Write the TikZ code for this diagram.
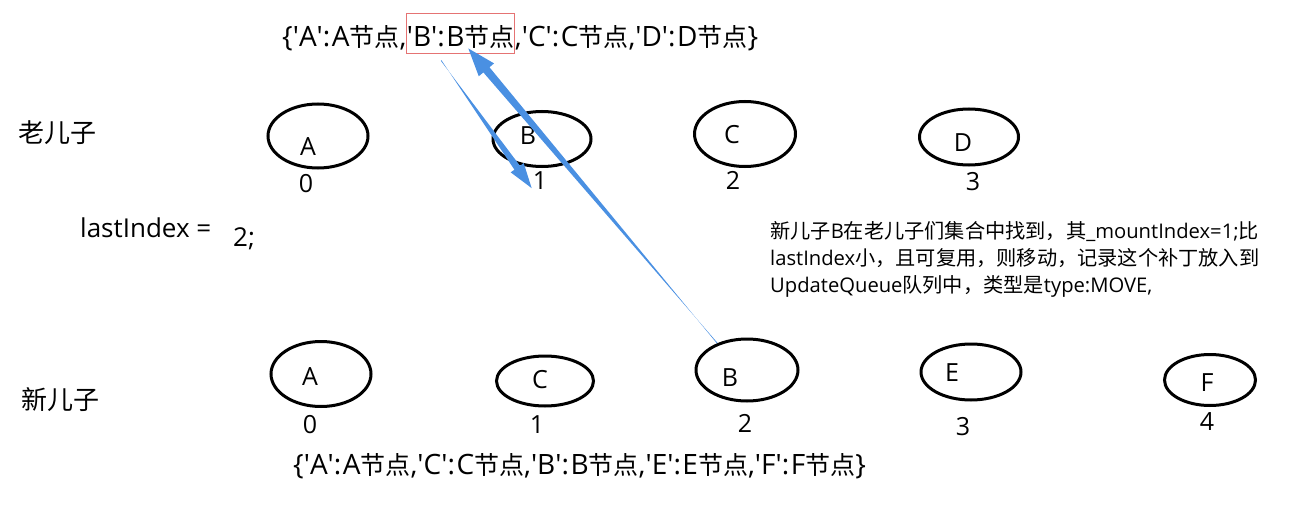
\documentclass[tikz,border=0pt]{standalone}
\usepackage{fontspec}
\setmainfont{Open Sans}
\newfontfamily\dictfont[LetterSpace=5.5]{Open Sans}
\newfontfamily\zhfont{Noto Sans CJK SC}
\newcommand\zh[1]{{\zhfont #1}}
\newcommand\zd[1]{{\fontsize{25}{30}\selectfont\zhfont #1}}
\newcommand\q{\textquotesingle}
\usetikzlibrary{calc,shapes.geometric}
\definecolor{arrowblue}{HTML}{4A90E2}
\definecolor{boxred}{HTML}{E57373}
\newcommand\taper[6]{%
  \coordinate (tpH) at ($(#2)!#5!(#1)$);
  \fill[arrowblue] ($(#1)!#3!90:(#2)$) -- ($(tpH)!#4!-90:(#2)$) -- ($(tpH)!#6!-90:(#2)$) -- (#2)
    -- ($(tpH)!#6!90:(#2)$) -- ($(tpH)!#4!90:(#2)$) -- ($(#1)!#3!-90:(#2)$) -- cycle;
}
\tikzset{
  ell/.style={draw, ellipse, line width=3pt, inner sep=0pt},
  lbl/.style={font=\fontsize{25}{30}\selectfont, inner sep=0pt},
  big/.style={font=\fontsize{28}{32}\selectfont\dictfont, inner sep=0pt},
  side/.style={font=\fontsize{26}{30}\selectfont, inner sep=0pt},
  note/.style={font=\fontsize{20.2}{27}\selectfont, inner sep=0pt, anchor=base west},
}
\begin{document}
\begin{tikzpicture}[x=1pt,y=-1pt]
\useasboundingbox (0,0) rectangle (1292,516);
% top dictionary
\node[big, anchor=base west] (t1) at (282,47) {\{\q A\q:A\zd{节点},};
\node[big, anchor=base west] (t2) at (t1.base east) {\q B\q:B\zd{节点}};
\node[big, anchor=base west] (t3) at (t2.base east) {,\q C\q:C\zd{节点},\q D\q:D\zd{节点}\}};
\coordinate (rby) at (0,33);
\node[draw=boxred, line width=0.9pt, minimum width=108pt, minimum height=40pt] (rb) at (t2.center |- rby) {};
% side labels
\node[side, font=\fontsize{26}{30}\selectfont\zhfont] (old) at (57,133) {老儿子};
\node[side, font=\fontsize{26}{30}\selectfont\zhfont] (new) at (60,400) {新儿子};
\node[side, anchor=base west] (li) at (80,237) {lastIndex =};
\node[side, anchor=base west] (lv) at (233,246) {2;};
% old children
\node[ell, minimum width=100pt, minimum height=64pt] (oA) at (318,136) {};
\node[ell, minimum width=98pt, minimum height=55pt] (oB) at (542,139) {};
\node[ell, minimum width=101pt, minimum height=65pt] (oC) at (745,134) {};
\node[ell, minimum width=99pt, minimum height=56pt] (oD) at (969,137) {};
\node[lbl] (oAl) at (308,147) {A};
\node[lbl] (oBl) at (528,136) {B};
\node[lbl] (oCl) at (732,135) {C};
\node[lbl] (oDl) at (963,143) {D};
\node[lbl] (oA0) at (306,184) {0};
\node[lbl] (oB1) at (540,181) {1};
\node[lbl] (oC2) at (733,180) {2};
\node[lbl] (oD3) at (973,182) {3};
% new children
\node[ell, minimum width=100pt, minimum height=65pt] (nA) at (321,374) {};
\node[ell, minimum width=97pt, minimum height=50pt] (nC) at (545,381) {};
\node[ell, minimum width=102pt, minimum height=62pt] (nB) at (747,370) {};
\node[ell, minimum width=100pt, minimum height=56pt] (nE) at (971,372) {};
\node[ell, minimum width=91pt, minimum height=51pt] (nF) at (1210,380) {};
\node[lbl] (nAl) at (310,377) {A};
\node[lbl] (nCl) at (540,380) {C};
\node[lbl] (nBl) at (730,378) {B};
\node[lbl] (nEl) at (952,373) {E};
\node[lbl] (nFl) at (1207,383) {F};
\node[lbl] (nA0) at (310,425) {0};
\node[lbl] (nC1) at (537,425) {1};
\node[lbl] (nB2) at (745,423) {2};
\node[lbl] (nE3) at (963,427) {3};
\node[lbl] (nF4) at (1207,422) {4};
% bottom dictionary
\node[big, anchor=base west] (bd) at (293,474) {\{\q A\q:A\zd{节点},\q C\q:C\zd{节点},\q B\q:B\zd{节点},\q E\q:E\zd{节点},\q F\q:F\zd{节点}\}};
% note
\node[note] (n1) at (770,238) {\zh{新儿子}B\zh{在老儿子们集合中找到，其}\_mountIndex=1;\zh{比}};
\node[note] (n2) at (770,265) {lastIndex\zh{小，且可复用，则移动，记录这个补丁放入到}};
\node[note] (n3) at (770,292) {UpdateQueue\zh{队列中，类型是}type:MOVE,};
% arrows
\coordinate (a1s) at ($(rb.south west)!0.32!(rb.south east)+(0,7)$);
\coordinate (a1t) at ($(oB1.south west)+(-1,-2)$);
\taper{a1s}{a1t}{0.4pt}{3.4pt}{25pt}{8pt}
\coordinate (a2s) at (nB.138);
\coordinate (a2t) at ($(rb.south west)!0.57!(rb.south east)+(0,-5)$);
\taper{a2s}{a2t}{0.4pt}{4pt}{28pt}{10pt}
\end{tikzpicture}
\end{document}
